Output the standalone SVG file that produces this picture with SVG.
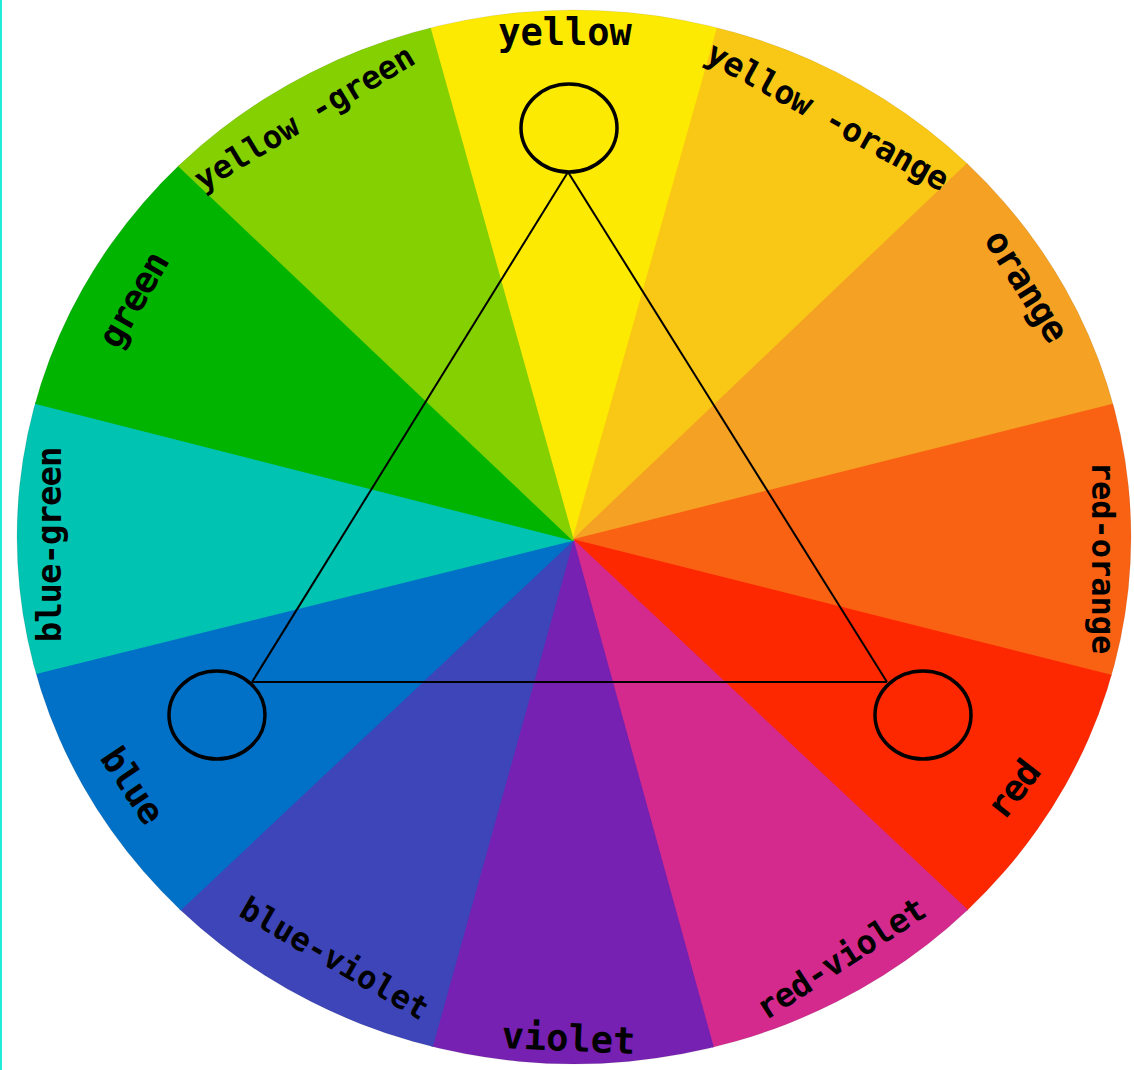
<svg xmlns="http://www.w3.org/2000/svg" width="1134" height="1070" viewBox="0 0 1134 1070">
  <defs>
    <clipPath id="wheelClip">
      <ellipse cx="574" cy="537" rx="557" ry="527"/>
    </clipPath>
    <style>
      .seg { stroke-width: 1.5; stroke-linejoin: round; }
      .lbl { font-family: "DejaVu Sans Mono", "Liberation Mono", monospace; font-weight: bold; font-size: 32px; fill: #000; text-anchor: middle; }
      .big { font-size: 37px; }
      .mid { font-size: 36px; letter-spacing: -1px; }
      .ring { fill: none; stroke: #000; stroke-width: 3.5; }
      .edge { fill: none; stroke: #000; stroke-width: 2; }
    </style>
  </defs>
  <rect x="0" y="0" width="1134" height="1070" fill="#ffffff"/>
  <rect x="0" y="0" width="2" height="1070" fill="#22EDD6"/>

  <g id="wheel" clip-path="url(#wheelClip)">
    <polygon id="seg-yellow" class="seg" fill="#FDEA02" stroke="#FDEA02" points="573,540 344.2,-279.2 803.4,-276"/>
    <polygon id="seg-yellow-orange" class="seg" fill="#F9C715" stroke="#F9C715" points="573,540 803.4,-276 1198.6,-56.8"/>
    <polygon id="seg-orange" class="seg" fill="#F4A124" stroke="#F4A124" points="573,540 1198.6,-56.8 1433.8,324"/>
    <polygon id="seg-red-orange" class="seg" fill="#FA6213" stroke="#FA6213" points="573,540 1433.8,324 1430.6,756"/>
    <polygon id="seg-red" class="seg" fill="#FD2800" stroke="#FD2800" points="573,540 1430.6,756 1203.4,1132"/>
    <polygon id="seg-red-violet" class="seg" fill="#D42A8E" stroke="#D42A8E" points="573,540 1203.4,1132 797,1351.2"/>
    <polygon id="seg-violet" class="seg" fill="#7621B1" stroke="#7621B1" points="573,540 797,1351.2 347.4,1351.2"/>
    <polygon id="seg-blue-violet" class="seg" fill="#3D45B9" stroke="#3D45B9" points="573,540 347.4,1351.2 -55.8,1132"/>
    <polygon id="seg-blue" class="seg" fill="#0071C7" stroke="#0071C7" points="573,540 -55.8,1132 -284.6,752.8"/>
    <polygon id="seg-blue-green" class="seg" fill="#00C3B1" stroke="#00C3B1" points="573,540 -284.6,752.8 -287.8,320.8"/>
    <polygon id="seg-green" class="seg" fill="#00B400" stroke="#00B400" points="573,540 -287.8,320.8 -55.8,-56.8"/>
    <polygon id="seg-yellow-green" class="seg" fill="#84D000" stroke="#84D000" points="573,540 -55.8,-56.8 344.2,-279.2"/>
  </g>
  <ellipse cx="574" cy="537" rx="557" ry="527" fill="none" stroke="rgba(0,0,0,0.08)" stroke-width="1"/>

  <g id="labels">
    <text id="lbl-yellow" class="lbl big" transform="translate(565,45)">yellow</text>
    <text id="lbl-yellow-orange" class="lbl" transform="translate(822,126) rotate(29)" style="font-size:33px;letter-spacing:-0.5px">yellow -orange</text>
    <text id="lbl-orange" class="lbl mid" transform="translate(1016,292) rotate(58)">orange</text>
    <text id="lbl-red-orange" class="lbl" transform="translate(1092,558) rotate(90)">red-orange</text>
    <text id="lbl-red" class="lbl mid" transform="translate(1023,797) rotate(-52)">red</text>
    <text id="lbl-red-violet" class="lbl" transform="translate(847,968) rotate(-33)" style="font-size:33px;letter-spacing:-0.5px">red-violet</text>
    <text id="lbl-violet" class="lbl big" transform="translate(568,1051) rotate(2.5)">violet</text>
    <text id="lbl-blue-violet" class="lbl" transform="translate(329,968) rotate(30)">blue-violet</text>
    <text id="lbl-blue" class="lbl mid" transform="translate(122,792) rotate(56)">blue</text>
    <text id="lbl-blue-green" class="lbl" transform="translate(61,545) rotate(-90)" style="font-size:34px;letter-spacing:-1px">blue-green</text>
    <text id="lbl-green" class="lbl mid" transform="translate(144,306) rotate(-60)">green</text>
    <text id="lbl-yellow-green" class="lbl" transform="translate(310,127) rotate(-31)">yellow -green</text>
  </g>

  <g id="connectors">
    <line class="edge" x1="568" y1="172" x2="252" y2="682"/>
    <line class="edge" x1="568" y1="172" x2="887" y2="682"/>
    <line class="edge" x1="252" y1="682" x2="887" y2="682"/>
  </g>

  <g id="node-yellow">
    <ellipse class="ring" cx="569" cy="128" rx="48" ry="44"/>
  </g>
  <g id="node-blue">
    <ellipse class="ring" cx="217" cy="715" rx="48" ry="44"/>
  </g>
  <g id="node-red">
    <ellipse class="ring" cx="923" cy="715" rx="48" ry="44"/>
  </g>
</svg>
